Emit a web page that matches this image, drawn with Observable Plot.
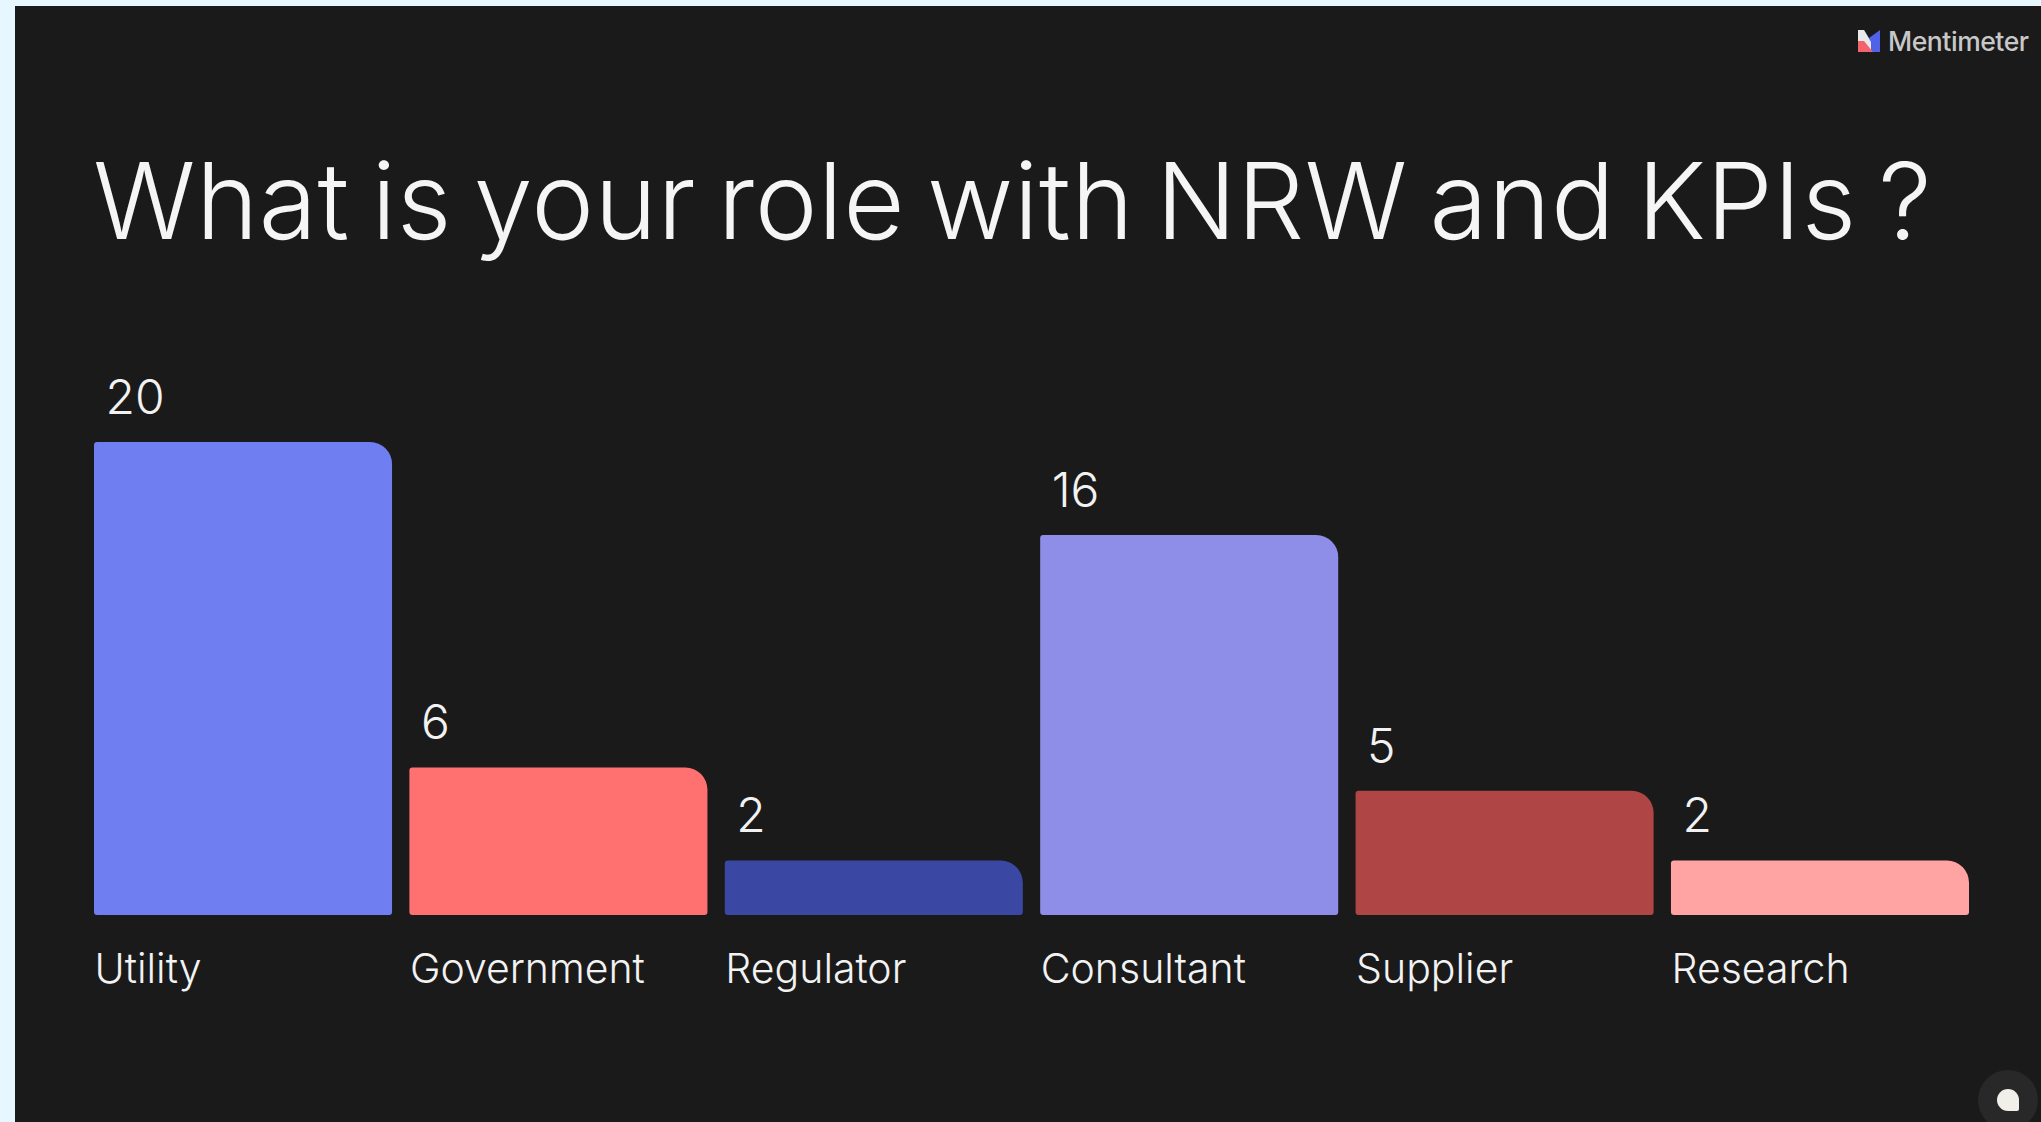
<!DOCTYPE html>
<html>
<head>
<meta charset="utf-8">
<script src="https://cdn.jsdelivr.net/npm/d3@7"></script>
<script src="https://cdn.jsdelivr.net/npm/@observablehq/plot@0.6"></script>
<style>
html,body{margin:0;padding:0;background:#e6f7ff;width:2041px;height:1122px;overflow:hidden}
#slide{position:absolute;left:15px;top:6px;width:2026px;height:1116px;background:#1a1a1a;overflow:hidden;font-family:Inter,sans-serif}
#brand{position:absolute;left:1843px;top:19px;display:flex;align-items:center;gap:8px;color:#c8c8c8;font-size:26.5px;font-weight:500;letter-spacing:-.45px}
h1{position:absolute;left:78px;top:130px;margin:0;font-weight:340;font-size:106px;line-height:130px;color:#f5f5f5;white-space:nowrap;letter-spacing:.5px;word-spacing:-8.5px}
#chart{position:absolute;left:0;top:360px}
#chat{position:absolute;left:1963px;top:1064px;width:60px;height:60px;border-radius:50%;background:#282828}
#chat i{position:absolute;left:19px;top:19px;width:22px;height:22px;border-radius:50% 50% 2px 50%;background:#f0efe9}
</style>
</head>
<body>
<div id="slide">
  <div id="brand"><svg width="22" height="22" viewBox="0 0 22 22"><path d="M0 0 L6 0 L11 8 L22 0 L22 22 L0 22Z" fill="#4f62e8"/><path d="M0 0 L6 0 L13 12 L13 22 L0 22Z" fill="#e9e9e9"/><path d="M0 11 L6 11 L15 22 L0 22Z" fill="#f2636b"/></svg><span>Mentimeter</span></div>
  <h1>What is your role with NRW and KPIs ?</h1>
  <div id="chart"></div>
  <div id="chat"><i></i></div>
</div>
<script>
const roles = ["Utility","Government","Regulator","Consultant","Supplier","Research"];
const counts = [20,6,2,16,5,2];
const barColors = ["#6f7ef0","#ff7070","#3a47a3","#8e8ee8","#b04545","#ffa3a3"];
const rows = roles.map((role,i)=>({role,count:counts[i]}));
const baseline = -0.34;
const plot = Plot.plot({
  width:2026,height:756,
  marginTop:0,marginRight:0,marginBottom:0,marginLeft:0,
  style:{background:"transparent",fontFamily:"Inter, sans-serif",color:"#f0f0f0"},
  x:{domain:roles,range:[79,1954],paddingInner:0.055,paddingOuter:0,align:0,round:false,label:null},
  y:{domain:[baseline,20],range:[549,76],axis:null},
  color:{domain:roles,range:barColors},
  marks:[
    Plot.barY(rows,{x:"role",y1:baseline,y2:"count",fill:"role",rx1y1:3,rx1y2:3,rx2y1:22,rx2y2:3}),
    Plot.text(rows,{x:"role",y:"count",text:d=>String(d.count),dx:-138,dy:-44,textAnchor:"start",fontSize:48,fontWeight:340,fill:"#f2f2f2"}),
    Plot.axisX({anchor:"bottom",tickSize:0,textAnchor:"start",dx:-149,dy:-178,fontSize:41,fontWeight:340,fill:"#f2f2f2",label:null})
  ]
});
document.getElementById("chart").append(plot);
</script>
</body>
</html>
